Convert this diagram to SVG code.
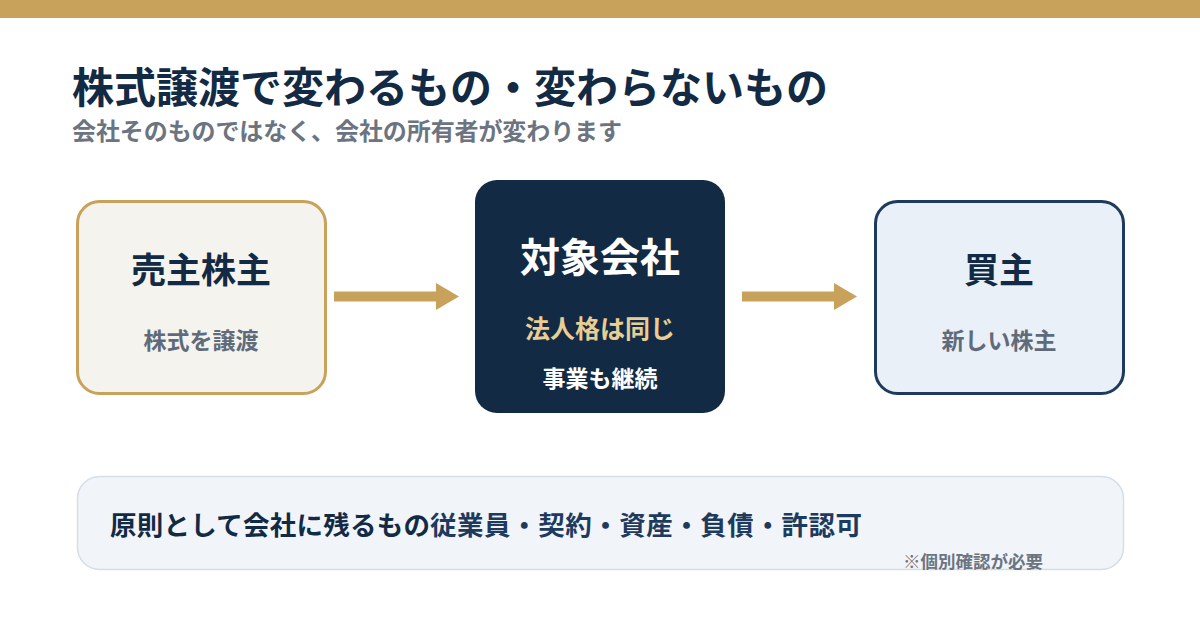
<svg xmlns="http://www.w3.org/2000/svg" width="1200" height="630" viewBox="0 0 1200 630">
<style>
text{font-family:"Noto Sans CJK JP","Noto Sans",sans-serif;font-weight:700}
.c{text-anchor:middle}
.navy{fill:#132A45}
.grey{fill:#5F6B7A}
.arrow line{stroke:#C8A25A;stroke-width:10}
.arrow polygon{fill:#C8A25A}
</style>
<rect x="0" y="0" width="1200" height="630" fill="#FFFFFF"/>
<rect x="0" y="0" width="1200" height="18" fill="#C8A25A"/>
<text x="72" y="103" font-size="42" class="navy">株式譲渡で変わるもの・変わらないもの</text>
<text x="72" y="140" font-size="24" fill="#6B7480" textLength="550">会社そのものではなく、会社の所有者が変わります</text>

<g id="seller">
<rect x="77.5" y="201.5" width="248" height="192" rx="22" fill="#F5F3EE" stroke="#C8A25A" stroke-width="3"/>
<text x="201" y="283" font-size="35" class="c navy">売主株主</text>
<text x="201" y="349" font-size="23" class="c grey">株式を譲渡</text>
</g>

<g id="company">
<rect x="475" y="180" width="250" height="233" rx="22" fill="#132A45"/>
<text x="600" y="272" font-size="40" class="c" fill="#FFFFFF">対象会社</text>
<text x="600" y="338" font-size="25" class="c" fill="#E8CE93">法人格は同じ</text>
<text x="600" y="387" font-size="23" class="c" fill="#FFFFFF">事業も継続</text>
</g>

<g id="buyer">
<rect x="875.5" y="201.5" width="248" height="192" rx="22" fill="#E9F0F7" stroke="#1E3A5C" stroke-width="3"/>
<text x="999" y="283" font-size="35" class="c navy">買主</text>
<text x="999" y="349" font-size="23" class="c grey">新しい株主</text>
</g>

<g id="connectors" class="arrow">
<line x1="334" y1="296.5" x2="442" y2="296.5"/>
<polygon points="436,283 459,296.5 436,310"/>
<line x1="742" y1="296.5" x2="840" y2="296.5"/>
<polygon points="834,283 857,296.5 834,310"/>
</g>

<g id="note">
<rect x="77.5" y="476.5" width="1046" height="93" rx="22" fill="#F1F5F9" stroke="#D5DDE5" stroke-width="1.5"/>
<text x="110" y="535" font-size="26.5" class="navy" textLength="320">原則として会社に残るもの</text>
<text x="430" y="535" font-size="26.5" font-weight="600" fill="#1E3A5C" textLength="432">従業員・契約・資産・負債・許認可</text>
<text x="903" y="568" font-size="17.5" fill="#6B7480">※個別確認が必要</text>
</g>
</svg>
